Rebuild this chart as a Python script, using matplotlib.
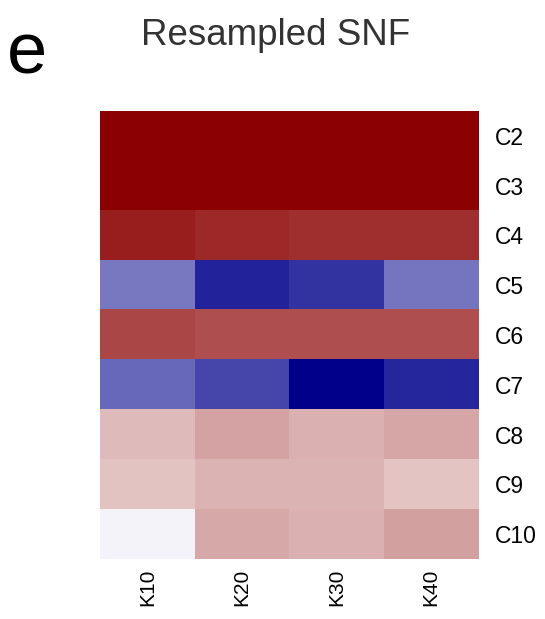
import numpy as np
import matplotlib
matplotlib.use("Agg")
import matplotlib.pyplot as plt
from matplotlib.colors import LinearSegmentedColormap

plt.rcParams['font.family'] = ['Liberation Sans', 'DejaVu Sans']

clusters = ["C2", "C3", "C4", "C5", "C6", "C7", "C8", "C9", "C10"]
k_values = ["K10", "K20", "K30", "K40"]

# Signed scores per cluster (rows) and neighbourhood size (columns)
score_c2 = [1.00, 1.00, 1.00, 1.00]
score_c3 = [1.00, 0.985, 0.985, 1.00]
score_c4 = [0.88, 0.84, 0.82, 0.82]
score_c5 = [-0.53, -0.86, -0.80, -0.54]
score_c6 = [0.72, 0.69, 0.69, 0.69]
score_c7 = [-0.59, -0.72, -1.00, -0.85]
score_c8 = [0.27, 0.36, 0.31, 0.35]
score_c9 = [0.24, 0.29, 0.29, 0.23]
score_c10 = [-0.04, 0.34, 0.31, 0.37]

scores = np.array([score_c2, score_c3, score_c4, score_c5, score_c6,
                   score_c7, score_c8, score_c9, score_c10])

cmap = LinearSegmentedColormap.from_list("bwr_dark", ["darkblue", "white", "darkred"])

fig = plt.figure(figsize=(5.45, 6.19), dpi=100)
ax = fig.add_axes([0.1835, 0.0969, 0.6936, 0.7238])
ax.imshow(scores, cmap=cmap, vmin=-1, vmax=1, aspect="auto", interpolation="nearest")

ax.set_xticks(np.arange(len(k_values)))
ax.set_xticklabels(k_values, rotation=90, fontsize=15)
ax.set_yticks(np.arange(len(clusters)))
ax.set_yticklabels(clusters, fontsize=16.5)
ax.yaxis.tick_right()
ax.tick_params(axis="x", length=0, pad=7)
ax.tick_params(axis="y", length=0, pad=12)
for s in ax.spines.values():
    s.set_visible(False)

fig.text(0.505, 0.927, "Resampled SNF", ha="center", va="baseline",
         fontsize=26.5, color="#333333")
fig.text(0.012, 0.882, "e", ha="left", va="baseline", fontsize=52, color="black")

fig.savefig("out.png", dpi=100)
